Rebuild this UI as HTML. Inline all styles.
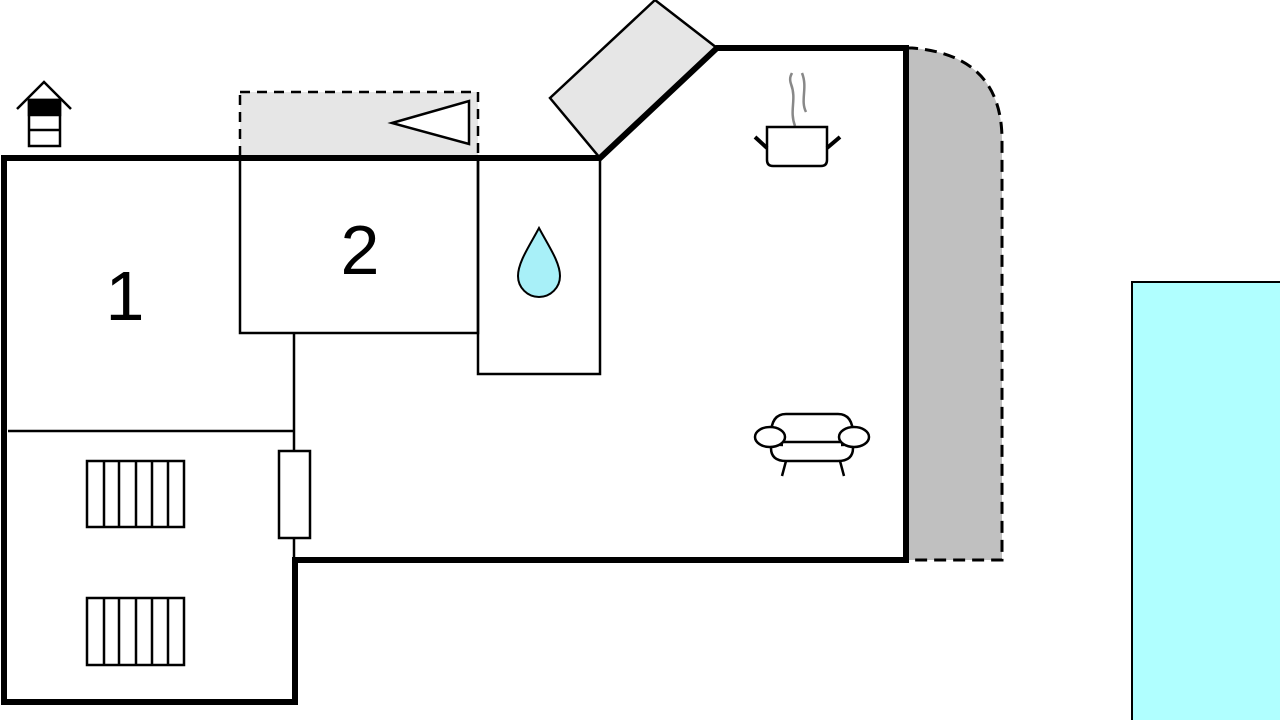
<!DOCTYPE html>
<html><head><style>body{margin:0;background:#fff}svg{display:block}</style></head>
<body>
<svg width="1280" height="720" viewBox="0 0 1280 720" xmlns="http://www.w3.org/2000/svg">
<rect width="1280" height="720" fill="#fff"/>
<!-- terrace -->
<path d="M906,48 L912,48 Q1002,55 1002,140 L1002,560 L906,560 Z" fill="#c0c0c0"/>
<path d="M906,48 L912,48 Q1002,55 1002,140 L1002,560 L906,560" fill="none" stroke="#000" stroke-width="3" stroke-dasharray="12,7"/>
<!-- pool -->
<rect x="1132" y="282" width="150" height="442" fill="#b0ffff" stroke="#000" stroke-width="2"/>
<!-- dashed entry -->
<rect x="240" y="92" width="238" height="66" fill="#e6e6e6" stroke="#000" stroke-width="2.5" stroke-dasharray="10,7"/>
<polygon points="392,123 469,101 469,144" fill="#fff" stroke="#000" stroke-width="2.5"/>
<!-- parallelogram -->
<polygon points="550,98 655,0 717,48 600,158" fill="#e6e6e6" stroke="#000" stroke-width="2.5"/>
<!-- thin interior walls -->
<g fill="none" stroke="#000" stroke-width="2.5">
<rect x="240" y="158" width="238" height="175"/>
<rect x="478" y="158" width="122" height="216"/>
<line x1="8" y1="431" x2="294" y2="431"/>
<line x1="294" y1="333" x2="294" y2="560"/>
</g>
<rect x="279" y="451" width="31" height="87" fill="#fff" stroke="#000" stroke-width="2.5"/>
<!-- outer walls -->
<path d="M4,158 L600,158 L717,48 L906,48 L906,560 L295,560 L295,702 L4,702 Z" fill="none" stroke="#000" stroke-width="6"/>
<!-- beds -->
<g fill="#fff" stroke="#000" stroke-width="2.5">
<rect x="87" y="461" width="97" height="66"/>
<rect x="87" y="598" width="97" height="67"/>
</g>
<g stroke="#000" stroke-width="2.5">
<path d="M104,461V527M119,461V527M136,461V527M152,461V527M168,461V527"/>
<path d="M104,598V665M119,598V665M136,598V665M152,598V665M168,598V665"/>
</g>
<!-- labels -->
<text x="125" y="320" font-family="Liberation Sans, sans-serif" font-size="70" text-anchor="middle">1</text>
<text x="360" y="274" font-family="Liberation Sans, sans-serif" font-size="70" text-anchor="middle">2</text>
<!-- drop -->
<path d="M539,228 C530,245 518,262 518,276 A21,21 0 0 0 560,276 C560,262 548,245 539,228 Z" fill="#a8f0f8" stroke="#000" stroke-width="2"/>
<!-- house icon -->
<g stroke="#000" stroke-width="2.5" fill="#fff">
<polyline points="17,109 44,82 71,109" fill="none"/>
<rect x="29" y="100" width="31" height="46"/>
<rect x="29" y="100" width="31" height="15" fill="#000"/>
<line x1="29" y1="130" x2="60" y2="130"/>
</g>
<!-- pot -->
<g stroke="#888" stroke-width="2.5" fill="none">
<path d="M795,126 C789,110 797,100 791,84 C789,78 791,75 792,73"/>
<path d="M806,112 C800,100 808,88 802,73"/>
</g>
<path d="M767,127 H827 V160 Q827,166 821,166 H773 Q767,166 767,160 Z" fill="#fff" stroke="#000" stroke-width="2.5"/>
<path d="M767,148 L755,137 M827,148 L840,137" stroke="#000" stroke-width="4"/>
<!-- sofa -->
<g fill="#fff" stroke="#000" stroke-width="2.5">
<path d="M783,445 Q771,445 771,435 Q771,414 786,414 H838 Q853,414 853,435 Q853,445 841,445"/>
<path d="M771,448 Q771,461 786,461 H838 Q853,461 853,448"/>
<line x1="786" y1="461" x2="782" y2="476"/>
<line x1="840" y1="461" x2="844" y2="476"/>
<line x1="780" y1="442" x2="844" y2="442"/>
<ellipse cx="770" cy="437" rx="15" ry="10"/>
<ellipse cx="854" cy="437" rx="15" ry="10"/>
</g>
</svg>
</body></html>
